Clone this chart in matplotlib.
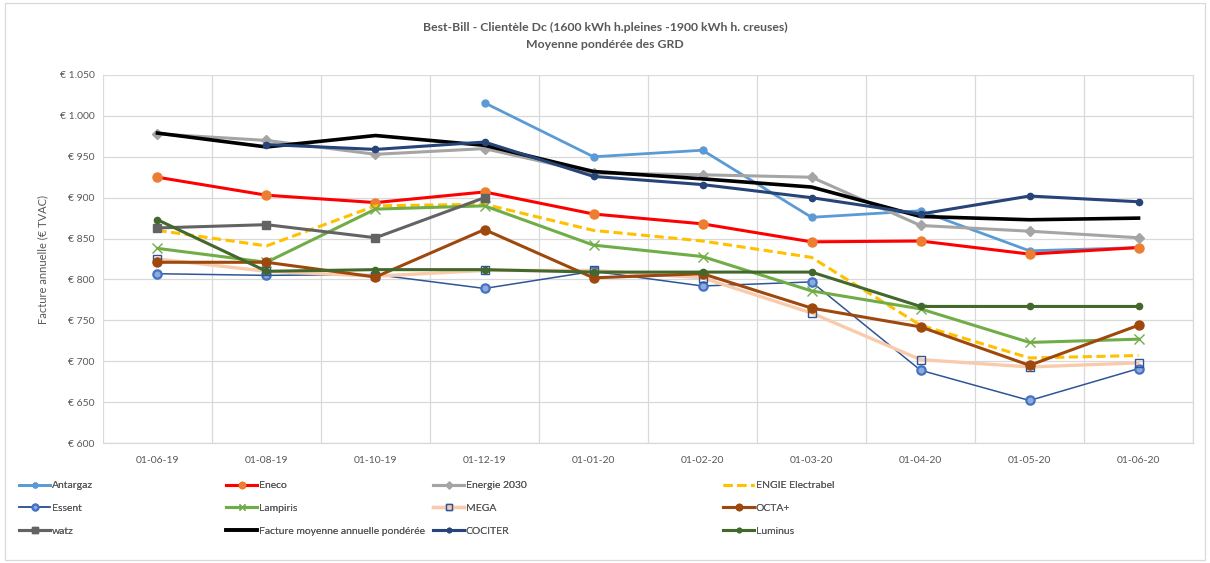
import numpy as np
import matplotlib
matplotlib.use("Agg")
import matplotlib.pyplot as plt
from matplotlib.patches import Rectangle
import matplotlib.ticker as ticker

plt.rcParams['font.family'] = ['Lato', 'DejaVu Sans']

dates = ['01-06-19', '01-08-19', '01-10-19', '01-12-19', '01-01-20',
         '01-02-20', '01-03-20', '01-04-20', '01-05-20', '01-06-20']
nan = np.nan

antargaz = [nan, nan, nan, 1016, 950, 958, 876, 884, 835, 839]
eneco = [925, 903, 894, 907, 880, 868, 846, 847, 831, 839]
energie2030 = [978, 970, 953, 960, 930, 928, 925, 866, 859, 851]
engie = [860, 841, 890, 892, 860, 847, 827, 744, 704, 707]
essent = [807, 805, 806, 789, 810, 792, 797, 689, 652, 691]
lampiris = [838, 821, 886, 890, 842, 828, 786, 764, 723, 727]
mega = [825, 810, 804, 811, 811, 802, 759, 702, 693, 698]
octa = [821, 821, 803, 861, 802, 807, 765, 742, 695, 744]
watz = [863, 867, 851, 900, nan, nan, nan, nan, nan, nan]
moyenne = [979, 962, 976, 964, 932, 923, 913, 877, 873, 875]
cociter = [nan, 965, 959, 968, 926, 916, 900, 880, 902, 895]
luminus = [873, 810, 812, 812, 809, 809, 809, 767, 767, 767]

# name, values, line style
series = [
    ('Antargaz', antargaz, dict(color='#5B9BD5', lw=2.0, marker='o', ms=5, mfc='#5B9BD5', mec='#5B9BD5')),
    ('Eneco', eneco, dict(color='#FF0000', lw=2.2, marker='o', ms=6.5, mfc='#ED7D31', mec='#ED7D31')),
    ('Energie 2030', energie2030, dict(color='#A5A5A5', lw=2.2, marker='D', ms=5, mfc='#A5A5A5', mec='#A5A5A5')),
    ('ENGIE Electrabel', engie, dict(color='#FFC000', lw=2.2, ls=(0, (3, 1.5)))),
    ('Essent', essent, dict(color='#2F5597', lw=1.1, marker='o', ms=6, mfc='#8FAADC', mec='#4472C4', mew=1.6)),
    ('Lampiris', lampiris, dict(color='#70AD47', lw=2.2, marker='x', ms=7, mec='#70AD47', mew=1.0)),
    ('MEGA', mega, dict(color='#F8CBAD', lw=2.4, marker='s', ms=6, mfc='none', mec='#2F5597', mew=1.0)),
    ('OCTA+', octa, dict(color='#9E480E', lw=2.2, marker='o', ms=6.5, mfc='#9E480E', mec='#9E480E')),
    ('watz', watz, dict(color='#636363', lw=2.2, marker='s', ms=6, mfc='#636363', mec='#636363')),
    ('Facture moyenne annuelle pondérée', moyenne, dict(color='#000000', lw=2.6)),
    ('COCITER', cociter, dict(color='#264478', lw=2.2, marker='o', ms=4.5, mfc='#264478', mec='#264478')),
    ('Luminus', luminus, dict(color='#43682B', lw=2.2, marker='o', ms=4.5, mfc='#43682B', mec='#43682B')),
]

fig = plt.figure(figsize=(12.1, 5.63), dpi=100)
ax = fig.add_axes([0.0851, 0.2131, 0.9009, 0.6537])

x = np.arange(len(dates))
handles = []
for name, vals, st in series:
    h, = ax.plot(x, vals, label=name, **st)
    handles.append(h)

ax.set_xlim(-0.5, len(dates) - 0.5)
ax.set_ylim(600, 1050)
ax.yaxis.set_major_locator(ticker.MultipleLocator(50))
ax.yaxis.set_major_formatter(ticker.FuncFormatter(
    lambda v, p: '€ ' + '{:,.0f}'.format(v).replace(',', '.')))
ax.set_xticks(x)
ax.set_xticklabels(dates)
ax.set_xticks(np.arange(-0.5, len(dates)), minor=True)
ax.grid(True, which='major', axis='y', color='#D9D9D9', lw=0.9)
ax.grid(True, which='minor', axis='x', color='#D9D9D9', lw=0.9)
ax.set_axisbelow(True)
ax.tick_params(which='both', length=0, labelsize=7.5, labelcolor='#595959')
ax.tick_params(axis='x', pad=9)
ax.tick_params(axis='y', pad=6)
for s in ax.spines.values():
    s.set_color('#D9D9D9')
    s.set_linewidth(0.9)
ax.spines['left'].set_visible(False)
ax.spines['top'].set_visible(False)

ax.set_ylabel('Facture annuelle (€ TVAC)', fontsize=8, color='#595959', labelpad=8)

fig.text(0.5, 0.952, 'Best-Bill - Clientèle Dc (1600 kWh h.pleines -1900 kWh h. creuses)',
         ha='center', va='center', fontsize=8.8, fontweight='bold', color='#595959')
fig.text(0.5, 0.921, 'Moyenne pondérée des GRD',
         ha='center', va='center', fontsize=8.8, fontweight='bold', color='#595959')

# legend: 4 columns placed like the original
col_x = [19, 226, 433, 723]
for c in range(4):
    hs = [handles[c + 4 * r] for r in range(3) if c + 4 * r < len(handles)]
    leg = fig.legend(handles=hs, loc='upper left',
                     bbox_to_anchor=(col_x[c] / 1210, 1 - 481 / 563),
                     frameon=False, fontsize=7.5, labelcolor='#595959',
                     handlelength=3.0, handletextpad=0.15, labelspacing=1.3,
                     markerscale=0.7, borderaxespad=0, borderpad=0)
    fig.add_artist(leg)

fig.add_artist(Rectangle((5 / 1210, 3 / 563), 1200 / 1210, 557 / 563,
                         transform=fig.transFigure, fill=False,
                         edgecolor='#D9D9D9', lw=0.9))

fig.savefig('out.png', dpi=100)
